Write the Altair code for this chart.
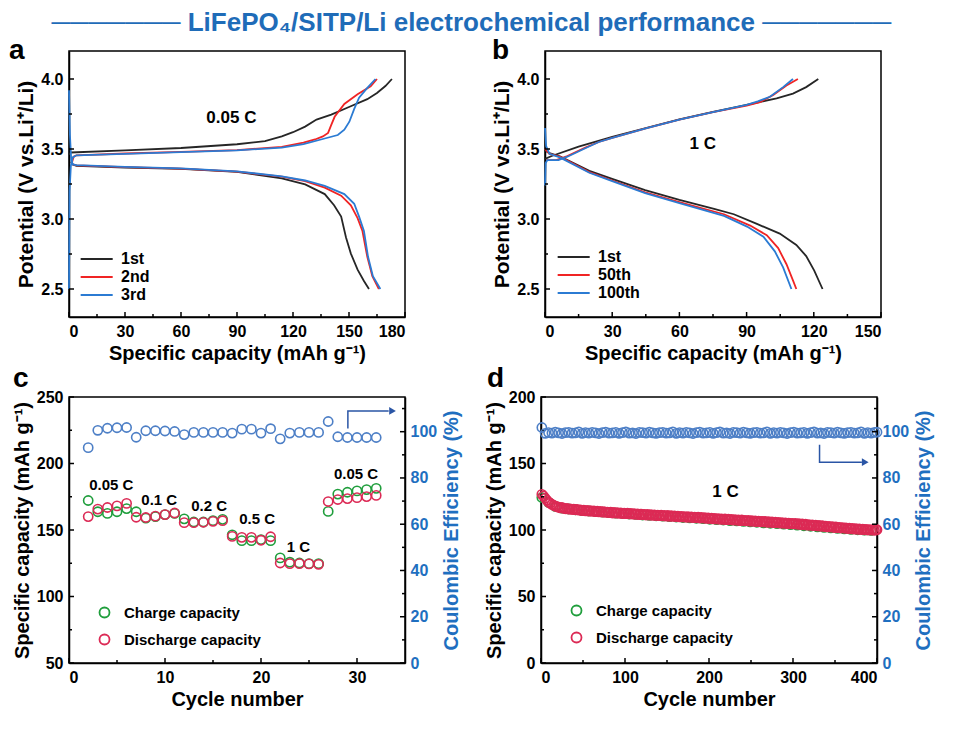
import altair as alt
import pandas as pd

FONT = "Liberation Sans"
C_BLACK = "#262626"
C_RED = "#f02424"
C_BLUE = "#2b7bd3"
C_GREEN = "#1f9e3c"
C_CRIMSON = "#dc2a55"
C_CE = "#4d7fc6"
C_AXBLUE = "#1f6fc0"
C_ARROW = "#2a55a5"
C_TITLE = "#1f6cb8"

# ---------------- Panel a : 0.05 C voltage profiles ----------------
a_ch1_cap = [0, 1, 30, 60, 90, 105, 114, 120, 126.5, 132.6, 140.5, 150, 159.8, 165, 169.5, 173]
a_ch1_v = [3.46, 3.475, 3.49, 3.507, 3.534, 3.557, 3.59, 3.62, 3.66, 3.71, 3.746, 3.80, 3.856, 3.90, 3.95, 4.0]
a_ch2_cap = [1.5, 2.5, 4, 30, 60, 90, 114, 125.6, 131.8, 136, 138.8, 140.5, 142.3, 147.5, 154.6, 161.6, 165]
a_ch2_v = [3.40, 3.445, 3.455, 3.468, 3.48, 3.492, 3.515, 3.545, 3.568, 3.59, 3.615, 3.672, 3.73, 3.822, 3.891, 3.948, 4.0]
a_ch3_cap = [0, 0.3, 1, 2, 4, 30, 60, 90, 114, 125.6, 137, 144, 147.5, 150.2, 152.8, 155.4, 159.8, 164.2]
a_ch3_v = [2.5, 3.2, 3.38, 3.44, 3.455, 3.465, 3.478, 3.49, 3.51, 3.535, 3.575, 3.60, 3.638, 3.695, 3.787, 3.866, 3.937, 4.0]
a_dc1_cap = [1, 2, 4, 30, 60, 90, 114, 126.5, 137, 142, 145.8, 148.4, 151, 154.6, 158, 160.7]
a_dc1_v = [3.41, 3.39, 3.38, 3.368, 3.358, 3.336, 3.29, 3.247, 3.178, 3.098, 3.017, 2.868, 2.753, 2.638, 2.557, 2.5]
a_dc2_cap = [2, 4, 30, 60, 90, 114, 126.5, 137, 145.8, 151, 154.6, 157.2, 159.8, 162.5, 166]
a_dc2_v = [3.39, 3.383, 3.37, 3.36, 3.338, 3.303, 3.27, 3.224, 3.167, 3.098, 3.006, 2.914, 2.73, 2.592, 2.5]
a_dc3_cap = [0, 0.5, 1.2, 2, 4, 30, 60, 90, 114, 126.5, 137, 147.5, 152.8, 155.4, 158, 160.2, 162.8, 166.8]
a_dc3_v = [3.92, 3.6, 3.42, 3.39, 3.385, 3.372, 3.362, 3.34, 3.305, 3.275, 3.236, 3.178, 3.109, 3.017, 2.914, 2.73, 2.592, 2.5]
a_labels = ["1st", "2nd", "3rd"]
a_note_x = [87]
a_note_y = [3.72]
a_note_t = ["0.05 C"]
a_xmajor = [0, 30, 60, 90, 120, 150, 180]
a_xminor = [15, 45, 75, 105, 135, 165]

# ---------------- Panel b : 1 C voltage profiles ----------------
b_ch1_cap = [0, 3, 15, 30, 45, 60, 75, 90, 103.4, 110.7, 116.6, 122]
b_ch1_v = [3.43, 3.45, 3.517, 3.586, 3.65, 3.712, 3.765, 3.816, 3.862, 3.896, 3.942, 4.0]
b_ch50_cap = [0.5, 5, 10, 18, 24, 30, 45, 60, 75, 90, 96, 101.9, 107.8, 112.9]
b_ch50_v = [3.42, 3.42, 3.45, 3.51, 3.55, 3.58, 3.648, 3.71, 3.763, 3.81, 3.835, 3.885, 3.954, 4.0]
b_ch100_cap = [0, 0.3, 1, 6, 10, 18, 24, 30, 45, 60, 75, 90, 95, 100.4, 106.3, 110.7]
b_ch100_v = [3.24, 3.40, 3.42, 3.42, 3.445, 3.505, 3.55, 3.58, 3.648, 3.71, 3.763, 3.815, 3.84, 3.873, 3.942, 4.0]
b_dc1_cap = [0, 2, 6.6, 19.8, 30, 44.7, 60, 75.5, 84.3, 94.6, 104.8, 112.2, 116.6, 120.2, 123.9]
b_dc1_v = [3.49, 3.47, 3.448, 3.344, 3.287, 3.206, 3.137, 3.073, 3.034, 2.965, 2.896, 2.815, 2.735, 2.631, 2.5]
b_dc50_cap = [0, 2, 6.6, 19.8, 30, 44.7, 60, 79.9, 91.6, 99, 104.1, 107.8, 110.7, 112.2]
b_dc50_v = [3.50, 3.465, 3.445, 3.335, 3.275, 3.19, 3.121, 3.034, 2.953, 2.884, 2.792, 2.677, 2.562, 2.5]
b_dc100_cap = [0, 0.5, 2, 6.6, 19.8, 30, 44.7, 60, 79.9, 90.2, 97.5, 102.6, 106.3, 110]
b_dc100_v = [3.65, 3.52, 3.465, 3.44, 3.33, 3.27, 3.185, 3.114, 3.022, 2.946, 2.873, 2.769, 2.654, 2.5]
b_labels = ["1st", "50th", "100th"]
b_note_x = [70.4]
b_note_y = [3.535]
b_note_t = ["1 C"]
b_xmajor = [0, 30, 60, 90, 120, 150]
b_xminor = [15, 45, 75, 105, 135]

v_major = [2.5, 3.0, 3.5, 4.0]
v_minor = [2.75, 3.25, 3.75]

# ---------------- Panel c : rate capability ----------------
c_cycles = list(range(2, 33))
c_charge = [172.2, 163.7, 162.5, 163.7, 166.1, 163.7, 158.9, 160.1, 161.6, 162.5,
            158.4, 156.0, 156.0, 157.0, 158.0, 146.4, 142.0, 142.0, 142.8, 142.0,
            129.0, 125.8, 125.2, 124.7, 124.7, 164.0, 177.0, 178.4, 179.4, 180.4, 181.3]
c_discharge = [160.1, 165.7, 166.9, 168.1, 170.0, 159.6, 159.4, 160.4, 161.6, 162.8,
               155.5, 155.5, 155.8, 156.5, 157.0, 145.2, 144.5, 144.5, 142.3, 144.9,
               125.2, 124.7, 124.7, 124.5, 124.2, 171.4, 172.9, 173.6, 174.3, 175.1, 176.0]
c_ce = [93.1, 100.6, 101.5, 101.7, 101.8, 97.6, 100.4, 100.4, 100.3, 100.1,
        98.75, 99.7, 99.7, 99.7, 99.7, 99.4, 101.1, 101.1, 99.4, 101.3,
        96.9, 99.4, 99.7, 99.7, 99.7, 104.4, 97.8, 97.5, 97.5, 97.5, 97.5]
c_note_x = [4.4, 9.4, 14.6, 19.6, 23.9, 29.9]
c_note_y = [184.2, 172.4, 168.0, 158.0, 137.5, 192.2]
c_note_t = ["0.05 C", "0.1 C", "0.2 C", "0.5 C", "1 C", "0.05 C"]
c_arrow_x = [29.05, 29.05, 33.3]
c_arrow_y = [101.4, 109.0, 109.0]
c_head_x = [33.7]
c_head_y = [109.0]
c_xmajor = [0, 10, 20, 30]
c_xminor = [5, 15, 25]
c_ymajor = [50, 100, 150, 200, 250]
c_yminor = [75, 125, 175, 225]

# ---------------- Panel d : long cycling at 1 C ----------------
d_cycles = list(range(1, 400, 2)) + [400]
d_discharge = [
    126.8, 125.6, 123.9, 122.4, 121.0, 120.1, 119.2, 118.6, 118.0, 117.5,
    117.2, 116.6, 116.9, 116.2, 116.0, 116.3, 115.7, 115.9, 115.4, 115.6,
    115.2, 115.5, 114.9, 115.1, 114.6, 114.9, 114.4, 114.7, 114.2, 114.5,
    114.0, 114.3, 113.8, 114.1, 113.6, 113.9, 113.4, 113.7, 113.2, 113.5,
    113.1, 113.4, 112.8, 113.2, 112.7, 113.0, 112.5, 112.9, 112.4, 112.6,
    112.3, 112.6, 112.1, 112.5, 111.9, 112.2, 111.8, 112.1, 111.6, 111.9,
    111.5, 111.8, 111.3, 111.7, 111.2, 111.5, 111.0, 111.4, 110.9, 111.2,
    110.8, 111.1, 110.6, 111.0, 110.4, 110.9, 110.3, 110.7, 110.2, 110.6,
    110.1, 110.4, 109.9, 110.3, 109.8, 110.1, 109.6, 110.0, 109.5, 109.8,
    109.4, 109.7, 109.2, 109.6, 109.0, 109.4, 108.9, 109.2, 108.7, 109.1,
    108.6, 108.9, 108.4, 108.8, 108.2, 108.6, 108.1, 108.4, 107.9, 108.3,
    107.8, 108.1, 107.6, 107.9, 107.4, 107.8, 107.3, 107.6, 107.1, 107.5,
    107.0, 107.3, 106.8, 107.2, 106.6, 107.0, 106.5, 106.8, 106.3, 106.7,
    106.2, 106.5, 106.0, 106.4, 105.8, 106.2, 105.7, 106.0, 105.5, 105.9,
    105.4, 105.7, 105.2, 105.5, 105.0, 105.4, 104.9, 105.2, 104.7, 105.0,
    104.6, 104.9, 104.3, 104.7, 104.1, 104.5, 103.9, 104.3, 103.7, 104.1,
    103.5, 103.9, 103.3, 103.6, 103.0, 103.4, 102.8, 103.2, 102.6, 102.9,
    102.4, 102.7, 102.2, 102.5, 101.9, 102.3, 101.7, 102.0, 101.5, 101.8,
    101.3, 101.6, 101.1, 101.4, 100.9, 101.2, 100.7, 101.0, 100.5, 100.8,
    100.4, 100.7, 100.2, 100.5, 100.0, 100.3, 99.9, 100.2, 99.8, 100.1,
    100.2]
d_ch_cycles = list(range(1, 400, 8))
d_charge = [
    124.4, 120.8, 117.7, 116.4, 115.8, 115.2, 114.6, 114.3, 113.9, 113.5,
    113.1, 112.7, 112.4, 112.0, 111.7, 111.3, 111.0, 110.7, 110.4, 110.0,
    109.8, 109.4, 109.1, 108.8, 108.5, 108.1, 107.8, 107.5, 107.1, 106.8,
    106.5, 106.1, 105.8, 105.4, 105.1, 104.8, 104.4, 104.0, 103.6, 103.2,
    102.8, 102.4, 102.0, 101.6, 101.2, 100.9, 100.5, 100.2, 99.9, 99.7]
d_ce_cycles = list(range(1, 400, 4)) + [400]
d_ce = [
    101.8, 99.3, 99.6, 99.4, 99.8, 99.5, 99.2, 99.6, 99.7, 99.4,
    99.5, 99.9, 99.3, 99.6, 99.4, 99.7, 99.5, 99.2, 99.6, 99.8,
    99.4, 99.5, 99.7, 99.3, 99.6, 99.9, 99.4, 99.5, 99.2, 99.7,
    99.6, 99.4, 99.8, 99.5, 99.3, 99.6, 99.7, 99.4, 99.5, 99.9,
    99.3, 99.6, 99.4, 99.7, 99.5, 99.2, 99.6, 99.8, 99.4, 99.5,
    99.7, 99.3, 99.6, 99.9, 99.4, 99.5, 99.2, 99.7, 99.6, 99.4,
    99.8, 99.5, 99.3, 99.6, 99.7, 99.4, 99.5, 99.9, 99.3, 99.6,
    99.4, 99.7, 99.5, 99.2, 99.6, 99.8, 99.4, 99.5, 99.7, 99.3,
    99.6, 99.9, 99.4, 99.5, 99.2, 99.7, 99.6, 99.4, 99.8, 99.5,
    99.3, 99.6, 99.7, 99.4, 99.5, 99.9, 99.3, 99.6, 99.4, 99.7,
    99.8]
d_note_x = [219.6]
d_note_y = [128.5]
d_note_t = ["1 C"]
d_arrow_x = [331.6, 331.6, 382.0]
d_arrow_y = [94.4, 86.8, 86.8]
d_head_x = [386.0]
d_head_y = [86.8]
d_xmajor = [0, 100, 200, 300, 400]
d_xminor = [50, 150, 250, 350]
d_ymajor = [0, 50, 100, 150, 200]
d_yminor = [25, 75, 125, 175]

ce_major = [0, 20, 40, 60, 80, 100]
ce_minor = [10, 30, 50, 70, 90, 110]

cap_labels = ["Charge capacity", "Discharge capacity"]

W, H = 336, 266
MAJ, MIN = 5, 3
X_TITLE = "Specific capacity (mAh g⁻¹)"
V_TITLE = "Potential (V vs.Li⁺/Li)"


def curves_df(groups):
    rows = []
    for label, seg, caps, vs in groups:
        for i, (c, v) in enumerate(zip(caps, vs)):
            rows.append({"cycle": label, "seg": seg, "i": i, "cap": c, "v": v})
    return pd.DataFrame(rows)


def panel_label(ch, x, y):
    return alt.Chart(pd.DataFrame({"t": [ch]})).mark_text(
        font=FONT, fontSize=28, fontWeight="bold", align="left", baseline="alphabetic", color="black"
    ).encode(x=alt.value(x), y=alt.value(y), text="t:N")


def note_layer(xs, ys, ts, xenc, yenc, size=16):
    df = pd.DataFrame({"x": xs, "y": ys, "t": ts})
    return alt.Chart(df).mark_text(font=FONT, fontSize=size, fontWeight="bold", color="black").encode(
        x=xenc("x:Q"), y=yenc("y:Q"), text="t:N")


def inner_ticks(major, minor, enc, side):
    """Inward-pointing ticks drawn along one edge of the frame."""
    layers = []
    for vals, ln in ((major, MAJ), (minor, MIN)):
        df = pd.DataFrame({"t": vals})
        if side == "bottom":
            m = alt.Chart(df).mark_tick(orient="vertical", size=ln, thickness=1.5, color="black", opacity=1).encode(
                x=enc("t:Q"), y=alt.value(H - ln / 2))
        elif side == "left":
            m = alt.Chart(df).mark_tick(orient="horizontal", size=ln, thickness=1.5, color="black", opacity=1).encode(
                y=enc("t:Q"), x=alt.value(ln / 2))
        else:
            m = alt.Chart(df).mark_tick(orient="horizontal", size=ln, thickness=1.5, color="black", opacity=1).encode(
                y=enc("t:Q"), x=alt.value(W - ln / 2))
        layers.append(m)
    return layers


def line_legend(x, y):
    return alt.Legend(title=None, orient="none", legendX=x, legendY=y, symbolType="M-1,0H5",
                      symbolSize=114, symbolStrokeWidth=2, labelOffset=27, labelFont=FONT,
                      labelFontSize=16, labelFontWeight="bold", labelColor="black", rowPadding=2)


def profile_panel(groups, labels, xdom, xmajor, xminor, notes, letter, lx, ly, legxy):
    df = curves_df(groups)
    xaxis = alt.Axis(values=xmajor)
    yaxis = alt.Axis(values=v_major, format=".1f", titleFontSize=21)

    def xenc(f):
        return alt.X(f, scale=alt.Scale(domain=xdom, nice=False, zero=False), axis=xaxis, title=X_TITLE)

    def yenc(f):
        return alt.Y(f, scale=alt.Scale(domain=[2.3, 4.2], nice=False, zero=False), axis=yaxis, title=V_TITLE)

    lines = alt.Chart(df).mark_line(strokeWidth=1.8).encode(
        x=xenc("cap:Q"), y=yenc("v:Q"),
        color=alt.Color("cycle:N", scale=alt.Scale(domain=labels, range=[C_BLACK, C_RED, C_BLUE]),
                        legend=line_legend(*legxy)),
        detail="seg:N",
        order="i:Q",
    )
    nt = note_layer(*notes, xenc, yenc, size=17)
    ticks = inner_ticks(xmajor, xminor, xenc, "bottom") + inner_ticks(v_major, v_minor, yenc, "left")
    return alt.layer(lines, nt, *ticks, panel_label(letter, lx, ly)).properties(width=W, height=H)


pa = profile_panel(
    [("1st", "1c", a_ch1_cap, a_ch1_v), ("1st", "1d", a_dc1_cap, a_dc1_v),
     ("2nd", "2c", a_ch2_cap, a_ch2_v), ("2nd", "2d", a_dc2_cap, a_dc2_v),
     ("3rd", "3c", a_ch3_cap, a_ch3_v), ("3rd", "3d", a_dc3_cap, a_dc3_v)],
    a_labels, [0, 180], a_xmajor, a_xminor, (a_note_x, a_note_y, a_note_t), "a", -60, 8, (9, 200))

pb = profile_panel(
    [("1st", "1c", b_ch1_cap, b_ch1_v), ("1st", "1d", b_dc1_cap, b_dc1_v),
     ("50th", "2c", b_ch50_cap, b_ch50_v), ("50th", "2d", b_dc50_cap, b_dc50_v),
     ("100th", "3c", b_ch100_cap, b_ch100_v), ("100th", "3d", b_dc100_cap, b_dc100_v)],
    b_labels, [0, 150], b_xmajor, b_xminor, (b_note_x, b_note_y, b_note_t), "b", -53, 8, (10, 198))


def cycling_panel(cyc_ch, ch, cyc_dc, dc, cyc_ce, ce, xdom, xmajor, xminor, ydom, ymajor, yminor,
                  notes, arrow, head, letter, lx, ly, legxy, note_size):
    df = pd.DataFrame({"cycle": list(cyc_ch) + list(cyc_dc), "cap": list(ch) + list(dc),
                       "type": [cap_labels[0]] * len(ch) + [cap_labels[1]] * len(dc)})
    xaxis = alt.Axis(values=xmajor)
    yaxis = alt.Axis(values=ymajor)
    raxis = alt.Axis(orient="right", values=ce_major, labelPadding=5,
                     labelColor=C_AXBLUE, titleColor=C_AXBLUE, titleAngle=270,
                     titleBaseline="top", titlePadding=5)

    def xenc(f):
        return alt.X(f, scale=alt.Scale(domain=xdom, nice=False, zero=False), axis=xaxis, title="Cycle number")

    def yenc(f):
        return alt.Y(f, scale=alt.Scale(domain=ydom, nice=False, zero=False), axis=yaxis,
                     title="Specific capacity (mAh g⁻¹)")

    def renc(f):
        return alt.Y(f, scale=alt.Scale(domain=[0, 115], nice=False, zero=False), axis=raxis,
                     title="Coulombic Efficiency (%)")

    pts = alt.Chart(df).mark_point(filled=False, size=85, strokeWidth=1.6, opacity=1).encode(
        x=xenc("cycle:Q"), y=yenc("cap:Q"),
        color=alt.Color("type:N", scale=alt.Scale(domain=cap_labels, range=[C_GREEN, C_CRIMSON]),
                        legend=alt.Legend(title=None, orient="none", legendX=legxy[0], legendY=legxy[1],
                                          symbolType="circle", symbolSize=100, symbolStrokeWidth=1.8,
                                          labelFont=FONT, labelFontSize=15, labelFontWeight="bold",
                                          labelColor="black", rowPadding=8, labelOffset=12)),
    )
    left = alt.layer(pts, note_layer(*notes, xenc, yenc, size=note_size),
                     *inner_ticks(xmajor, xminor, xenc, "bottom"),
                     *inner_ticks(ymajor, yminor, yenc, "left"))
    dce = pd.DataFrame({"cycle": cyc_ce, "ce": ce})
    ce_pts = alt.Chart(dce).mark_point(filled=False, size=85, strokeWidth=1.6, opacity=1, color=C_CE).encode(
        x=xenc("cycle:Q"), y=renc("ce:Q"))
    dar = pd.DataFrame({"x": arrow[0], "y": arrow[1], "i": list(range(len(arrow[0])))})
    ar_line = alt.Chart(dar).mark_line(color=C_ARROW, strokeWidth=1.5).encode(
        x=xenc("x:Q"), y=renc("y:Q"), order="i:Q")
    dh = pd.DataFrame({"x": head[0], "y": head[1]})
    ar_head = alt.Chart(dh).mark_point(shape="triangle-right", filled=True, size=60, color=C_ARROW, opacity=1).encode(
        x=xenc("x:Q"), y=renc("y:Q"))
    right = alt.layer(ce_pts, ar_line, ar_head, *inner_ticks(ce_major, ce_minor, renc, "right"))
    return alt.layer(left, right, panel_label(letter, lx, ly)).resolve_scale(y="independent").properties(
        width=W, height=H)


pc = cycling_panel(c_cycles, c_charge, c_cycles, c_discharge, c_cycles, c_ce,
                   [0, 35], c_xmajor, c_xminor, [50, 250], c_ymajor, c_yminor,
                   (c_note_x, c_note_y, c_note_t), (c_arrow_x, c_arrow_y), (c_head_x, c_head_y),
                   "c", -56, -10, (28, 208), 15)

pd_ = cycling_panel(d_ch_cycles, d_charge, d_cycles, d_discharge, d_ce_cycles, d_ce,
                    [0, 400], d_xmajor, d_xminor, [0, 200], d_ymajor, d_yminor,
                    (d_note_x, d_note_y, d_note_t), (d_arrow_x, d_arrow_y), (d_head_x, d_head_y),
                    "d", -54, -10, (28, 206), 17)

top = alt.hconcat(pa, pb, spacing=84).resolve_scale(color="independent")
bottom = alt.hconcat(pc, pd_, spacing=20).resolve_scale(color="independent")

chart = alt.vconcat(top, bottom, spacing=0).resolve_scale(color="independent").properties(
    padding={"left": 0, "top": 2, "right": 0, "bottom": 0},
    title=alt.TitleParams(
        "─────── LiFePO₄/SITP/Li electrochemical performance ───────",
        font=FONT, fontSize=26, fontWeight="bold", color=C_TITLE, anchor="middle", offset=0)
).configure_view(stroke="black", strokeWidth=1.5).configure_axis(
    labelFont=FONT, labelFontSize=16, labelFontWeight="bold", labelColor="black",
    titleFont=FONT, titleFontSize=20, titleFontWeight="bold", titleColor="black",
    domainColor="black", domainWidth=1.5, ticks=False, tickSize=0,
    grid=False, labelPadding=6, titlePadding=4
)

chart.save("out.html", embed_options={"renderer": "svg", "actions": False})
